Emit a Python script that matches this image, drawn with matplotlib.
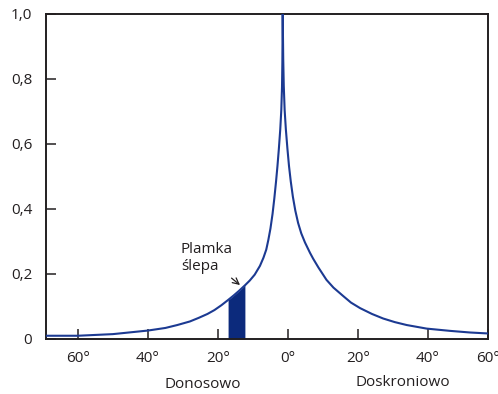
#Script for the visual acuity vs eccentricity chart
import numpy as np
import matplotlib
matplotlib.use("Agg")
import matplotlib.pyplot as plt

plt.rcParams['font.family'] = ['Open Sans', 'DejaVu Sans']

# curve, degrees from fovea (negative = nasal side)
left_deg = [-69.1, -60, -50, -40, -35, -31.6, -28, -25.5, -23, -21, -19, -17.1,
            -15.5, -14, -12.3, -10.9, -9.5, -8.0, -7.0, -6.2, -5.6, -5.0, -4.4,
            -3.9, -3.4, -3.0, -2.6, -2.2, -1.9, -1.7, -1.6, -1.5]
left_val = [0.010, 0.010, 0.015, 0.026, 0.034, 0.043, 0.054, 0.065, 0.077, 0.089, 0.104, 0.120,
            0.134, 0.148, 0.165, 0.180, 0.198, 0.225, 0.250, 0.275, 0.305, 0.340, 0.385,
            0.432, 0.485, 0.532, 0.585, 0.645, 0.705, 0.775, 0.850, 1.0]
right_deg = [-1.5, -1.35, -1.2, -0.95, -0.6, -0.15, 0.3, 0.8, 1.4, 2.1, 2.9, 3.8,
             4.86, 6.3, 7.2, 8.7, 11.0, 13, 15.8, 18, 20.6, 24, 27.2, 30.5,
             33.9, 39.6, 46.3, 52, 57.2]
right_val = [1.0, 0.860, 0.780, 0.705, 0.645, 0.585, 0.532, 0.485, 0.438, 0.395, 0.357, 0.325,
             0.297, 0.265, 0.247, 0.220, 0.182, 0.158, 0.132, 0.112, 0.095, 0.077, 0.063, 0.052,
             0.043, 0.032, 0.025, 0.020, 0.017]

blind_spot = [-17.1, -12.3]

xtick_pos = [-60, -40, -20, 0, 20, 40, 57.2]
xtick_labels = ["60°", "40°", "20°", "0°", "20°", "40°", "60°"]
ytick_pos = [0, 0.2, 0.4, 0.6, 0.8, 1.0]
ytick_labels = ["0", "0,2", "0,4", "0,6", "0,8", "1,0"]

CURVE = "#1c3a92"
FILL = "#0c2a7c"
INK = "#231f20"


def make_chart():
    '''
    Draws the curve, the blind spot block and the labels, then saves out.png
    '''
    fig = plt.figure(figsize=(4.98, 3.94), dpi=100)
    ax = fig.add_axes([0.0924, 0.1396, 0.888, 0.8249])

    x = np.array(left_deg + right_deg[1:])
    y = np.array(left_val + right_val[1:])
    ax.plot(x, y, color=CURVE, lw=1.5, zorder=3, solid_joinstyle="round")

    #blind spot block under the curve
    inside = x[(x > blind_spot[0]) & (x < blind_spot[1])]
    bx = np.concatenate([[blind_spot[0]], inside, [blind_spot[1]]])
    by = np.interp(bx, x, y)
    ax.fill_between(bx, 0, by, color=FILL, lw=0, zorder=2)

    ax.annotate("Plamka\nślepa", xy=(-13.7, 0.166), xytext=(-30.6, 0.25),
                fontsize=11, color=INK, ha="left", va="center", linespacing=1.15,
                arrowprops=dict(arrowstyle="->", color=INK, lw=0.9,
                                shrinkA=2, shrinkB=0))

    ax.set_xlim(left_deg[0], right_deg[-1])
    ax.set_ylim(0, 1.0)
    ax.set_xticks(xtick_pos)
    ax.set_xticklabels(xtick_labels)
    ax.set_yticks(ytick_pos)
    ax.set_yticklabels(ytick_labels)
    ax.tick_params(direction="in", length=7, width=1.1, color=INK,
                   labelsize=11, labelcolor=INK)
    ax.tick_params(axis="x", pad=9)
    ax.tick_params(axis="y", pad=10)
    for side in ax.spines.values():
        side.set_color(INK)
        side.set_linewidth(1.4)

    fig.text(203 / 498, 1 - 384 / 394, "Donosowo", fontsize=11, color=INK,
             ha="center", va="center")
    fig.text(403 / 498, 1 - 383 / 394, "Doskroniowo", fontsize=11, color=INK,
             ha="center", va="center")

    fig.savefig("out.png", dpi=100)


if __name__ == '__main__':
    make_chart()
